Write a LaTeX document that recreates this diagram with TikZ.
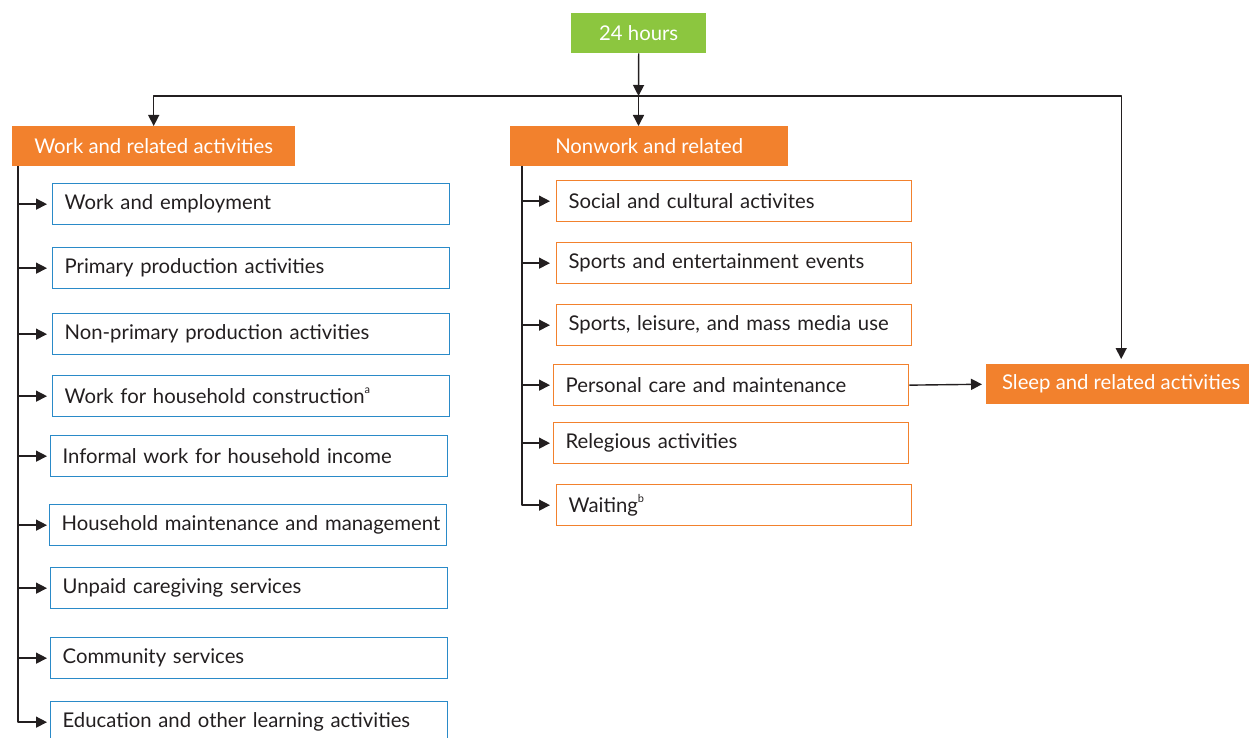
\documentclass[tikz,border=0pt]{standalone}
\usepackage{fontspec}
\setmainfont{Lato}
\usepackage{tikz}
\usetikzlibrary{arrows.meta, calc, positioning}
\usepackage{xcolor}
\definecolor{Orange}{HTML}{F2812D}
\definecolor{Green}{HTML}{8CC63F}
\definecolor{Blue}{HTML}{2A8AC8}
\definecolor{RichBlack}{HTML}{231F20}
\newcommand{\footmark}[1]{\raisebox{0.5em}{\fontsize{11}{12}\selectfont #1}}
\tikzset{%
  header/.style={%
    rectangle,%
    anchor=north west,%
    fill=Orange,%
    text=white,%
    minimum height=40pt,%
    inner sep=0pt,%
    font={\fontsize{20.3}{24}\selectfont},%
  },
  hours/.style={%
    header,%
    fill=Green,%
  },
  work_item/.style={%
    rectangle,%
    anchor=north west,%
    draw=Blue,%
    line width=1.3pt,%
    minimum height=41pt,%
    inner xsep=12pt,%
    text width=373pt,%
    align=left,%
    text=RichBlack,%
    font={\fontsize{20.3}{24}\selectfont},%
  },
  rest_item/.style={%
    work_item,%
    draw=Orange,%
    text width=331pt,%
  },
  signal/.style={%
    color=RichBlack,%
    line width=1.4pt,%
    line join=round,%
  },
  arrow/.style={-{Triangle[length=11pt, width=11pt]}},
}
\begin{document}
\begin{tikzpicture}[x=1pt, y=-1pt]
    \useasboundingbox (0,0) rectangle (1249,738);

    \node [hours, minimum width=135pt] (Hours) at (571,13) {24 hours};
    \node [header, minimum width=283pt] (Work) at (12,126) {Work and related activities};
    \node [header, minimum width=278pt] (Nonwork) at (510,126) {Nonwork and related};
    \node [header, minimum width=270pt] (Sleep) at (986,364) {Sleep and related activities};
    \coordinate (Branch) at (638.5,96);

    % work and related
    \node [work_item] (Employ) at (52,183) {Work and employment};
    \node [work_item] (Primary) at (52,247) {Primary production activities};
    \node [work_item] (NonPrimary) at (52,313) {Non-primary production activities};
    \node [work_item] (Construction) at (52,375) {Work for household construction\footmark{a}};
    \node [work_item] (Informal) at (50,435) {Informal work for household income};
    \node [work_item] (Household) at (49,504) {\mbox{Household maintenance and management}};
    \node [work_item] (Caregiving) at (50,567) {Unpaid caregiving services};
    \node [work_item] (Community) at (50,637) {Community services};
    \node [work_item] (Education) at (50,701) {Education and other learning activities};

    % nonwork and related
    \node [rest_item] (Social) at (556,180) {Social and cultural activites};
    \node [rest_item] (Events) at (556,242) {Sports and entertainment events};
    \node [rest_item] (Leisure) at (556,304) {Sports, leisure, and mass media use};
    \node [rest_item] (Personal) at (553,364) {Personal care and maintenance};
    \node [rest_item] (Religious) at (553,422) {Relegious activities};
    \node [rest_item] (Waiting) at (556,484) {Waiting\footmark{b}};

    \draw [arrow, signal]
      (Hours.south) -- (Branch);
    \draw [arrow, signal]
      (Branch) -| (Work.north);
    \draw [arrow, signal]
      (Branch) -- (Branch |- Nonwork.north);
    \draw [arrow, signal, shorten >=5pt]
      (Branch) -| (Sleep.north);
    \draw [arrow, signal, shorten >=4pt]
      (Personal.east) -- (Sleep.west);

    \draw [arrow, signal, shorten >=5pt] ($(Work.south west)+(6,0)$) |- (Employ.west);
    \draw [arrow, signal, shorten >=5pt] ($(Work.south west)+(6,0)$) |- (Primary.west);
    \draw [arrow, signal, shorten >=5pt] ($(Work.south west)+(6,0)$) |- (NonPrimary.west);
    \draw [arrow, signal, shorten >=5pt] ($(Work.south west)+(6,0)$) |- (Construction.west);
    \draw [arrow, signal, shorten >=3pt] ($(Work.south west)+(6,0)$) |- (Informal.west);
    \draw [arrow, signal, shorten >=2pt] ($(Work.south west)+(6,0)$) |- (Household.west);
    \draw [arrow, signal, shorten >=3pt] ($(Work.south west)+(6,0)$) |- (Caregiving.west);
    \draw [arrow, signal, shorten >=3pt] ($(Work.south west)+(6,0)$) |- (Community.west);
    \draw [arrow, signal, shorten >=3pt] ($(Work.south west)+(6,0)$) |- (Education.west);

    \draw [arrow, signal, shorten >=6pt] ($(Nonwork.south west)+(12,0)$) |- (Social.west);
    \draw [arrow, signal, shorten >=6pt] ($(Nonwork.south west)+(12,0)$) |- (Events.west);
    \draw [arrow, signal, shorten >=6pt] ($(Nonwork.south west)+(12,0)$) |- (Leisure.west);
    \draw [arrow, signal, shorten >=3pt] ($(Nonwork.south west)+(12,0)$) |- (Personal.west);
    \draw [arrow, signal, shorten >=3pt] ($(Nonwork.south west)+(12,0)$) |- (Religious.west);
    \draw [arrow, signal, shorten >=6pt] ($(Nonwork.south west)+(12,0)$) |- (Waiting.west);
  \end{tikzpicture}
\end{document}
